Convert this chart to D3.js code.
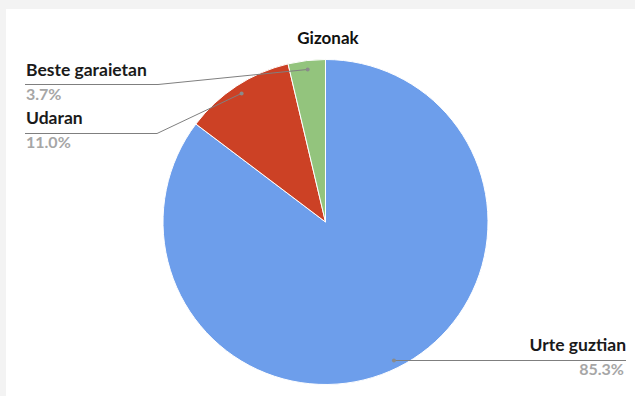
<!DOCTYPE html>
<html>
<head>
<meta charset="utf-8">
<script src="https://cdn.jsdelivr.net/npm/d3@7"></script>
<style>
  html, body { margin: 0; padding: 0; background: #f3f3f3; }
  svg { display: block; }
</style>
</head>
<body>
<svg id="chart" width="635" height="396"></svg>
<script>
// Season shares for men (percent)
const categories = ["Urte guztian", "Udaran", "Beste garaietan"];
const values = [85.3, 11.0, 3.7];
const valueLabels = ["85.3%", "11.0%", "3.7%"];
const colors = ["#6d9eeb", "#cc4125", "#93c47d"];
const title = "Gizonak";

const W = 635, H = 396;
const cx = 325.5, cy = 222, R = 162.5;
const font = "Lato, 'Open Sans', sans-serif";

const svg = d3.select("#chart");

// white card
svg.append("rect").attr("x", 6).attr("y", 9).attr("width", W - 6).attr("height", H - 9)
  .attr("fill", "#ffffff");

svg.append("text").attr("x", 328).attr("y", 44).attr("text-anchor", "middle")
  .attr("font-family", font).attr("font-weight", 700).attr("font-size", 17)
  .attr("fill", "#111").text(title);

const data = categories.map((c, i) => ({ name: c, value: values[i], label: valueLabels[i], color: colors[i] }));

const pie = d3.pie().value(d => d.value).sort(null);
const arcs = pie(data);
const arc = d3.arc().innerRadius(0).outerRadius(R);
const anchorArc = d3.arc().innerRadius(R * 0.945).outerRadius(R * 0.945);

const g = svg.append("g").attr("transform", `translate(${cx},${cy})`);
g.selectAll("path").data(arcs).join("path")
  .attr("d", arc).attr("fill", d => d.data.color)
  .attr("stroke", "#fff").attr("stroke-width", 1);

// label placement: text position, underline y and side
const labelPos = {
  "Beste garaietan": { x: 26, nameY: 76, lineY: 84.5, pctY: 100, lineEnd: 158, side: "left" },
  "Udaran": { x: 26, nameY: 124, lineY: 133.5, pctY: 148, lineEnd: 157, side: "left" },
  "Urte guztian": { x: 626, nameY: 351, lineY: 360.5, pctY: 375, lineEnd: 626, side: "right" }
};

const lines = svg.append("g");
arcs.forEach(a => {
  const p = labelPos[a.data.name];
  const [ax, ay] = anchorArc.centroid(a);
  const px = cx + ax, py = cy + ay;
  let pts;
  if (p.side === "left") {
    pts = [[p.x - 1, p.lineY], [p.lineEnd, p.lineY], [px, py]];
  } else {
    pts = [[px, p.lineY], [p.lineEnd, p.lineY]];
  }
  lines.append("path").attr("d", d3.line()(pts))
    .attr("fill", "none").attr("stroke", "#7f7f7f").attr("stroke-width", 1);
  const dot = p.side === "left" ? pts[2] : pts[0];
  lines.append("circle").attr("cx", dot[0]).attr("cy", dot[1])
    .attr("r", 2).attr("fill", "#8a8a8a");

  const anchor = p.side === "left" ? "start" : "end";
  svg.append("text").attr("x", p.x).attr("y", p.nameY).attr("text-anchor", anchor)
    .attr("font-family", font).attr("font-weight", 700).attr("font-size", 17.5)
    .attr("fill", "#1a1a1a").text(a.data.name);
  svg.append("text").attr("x", p.side === "left" ? p.x : p.x - 2).attr("y", p.pctY).attr("text-anchor", anchor)
    .attr("font-family", font).attr("font-weight", 700).attr("font-size", 16)
    .attr("fill", "#a6a6a6").text(a.data.label);
});
</script>
</body>
</html>
